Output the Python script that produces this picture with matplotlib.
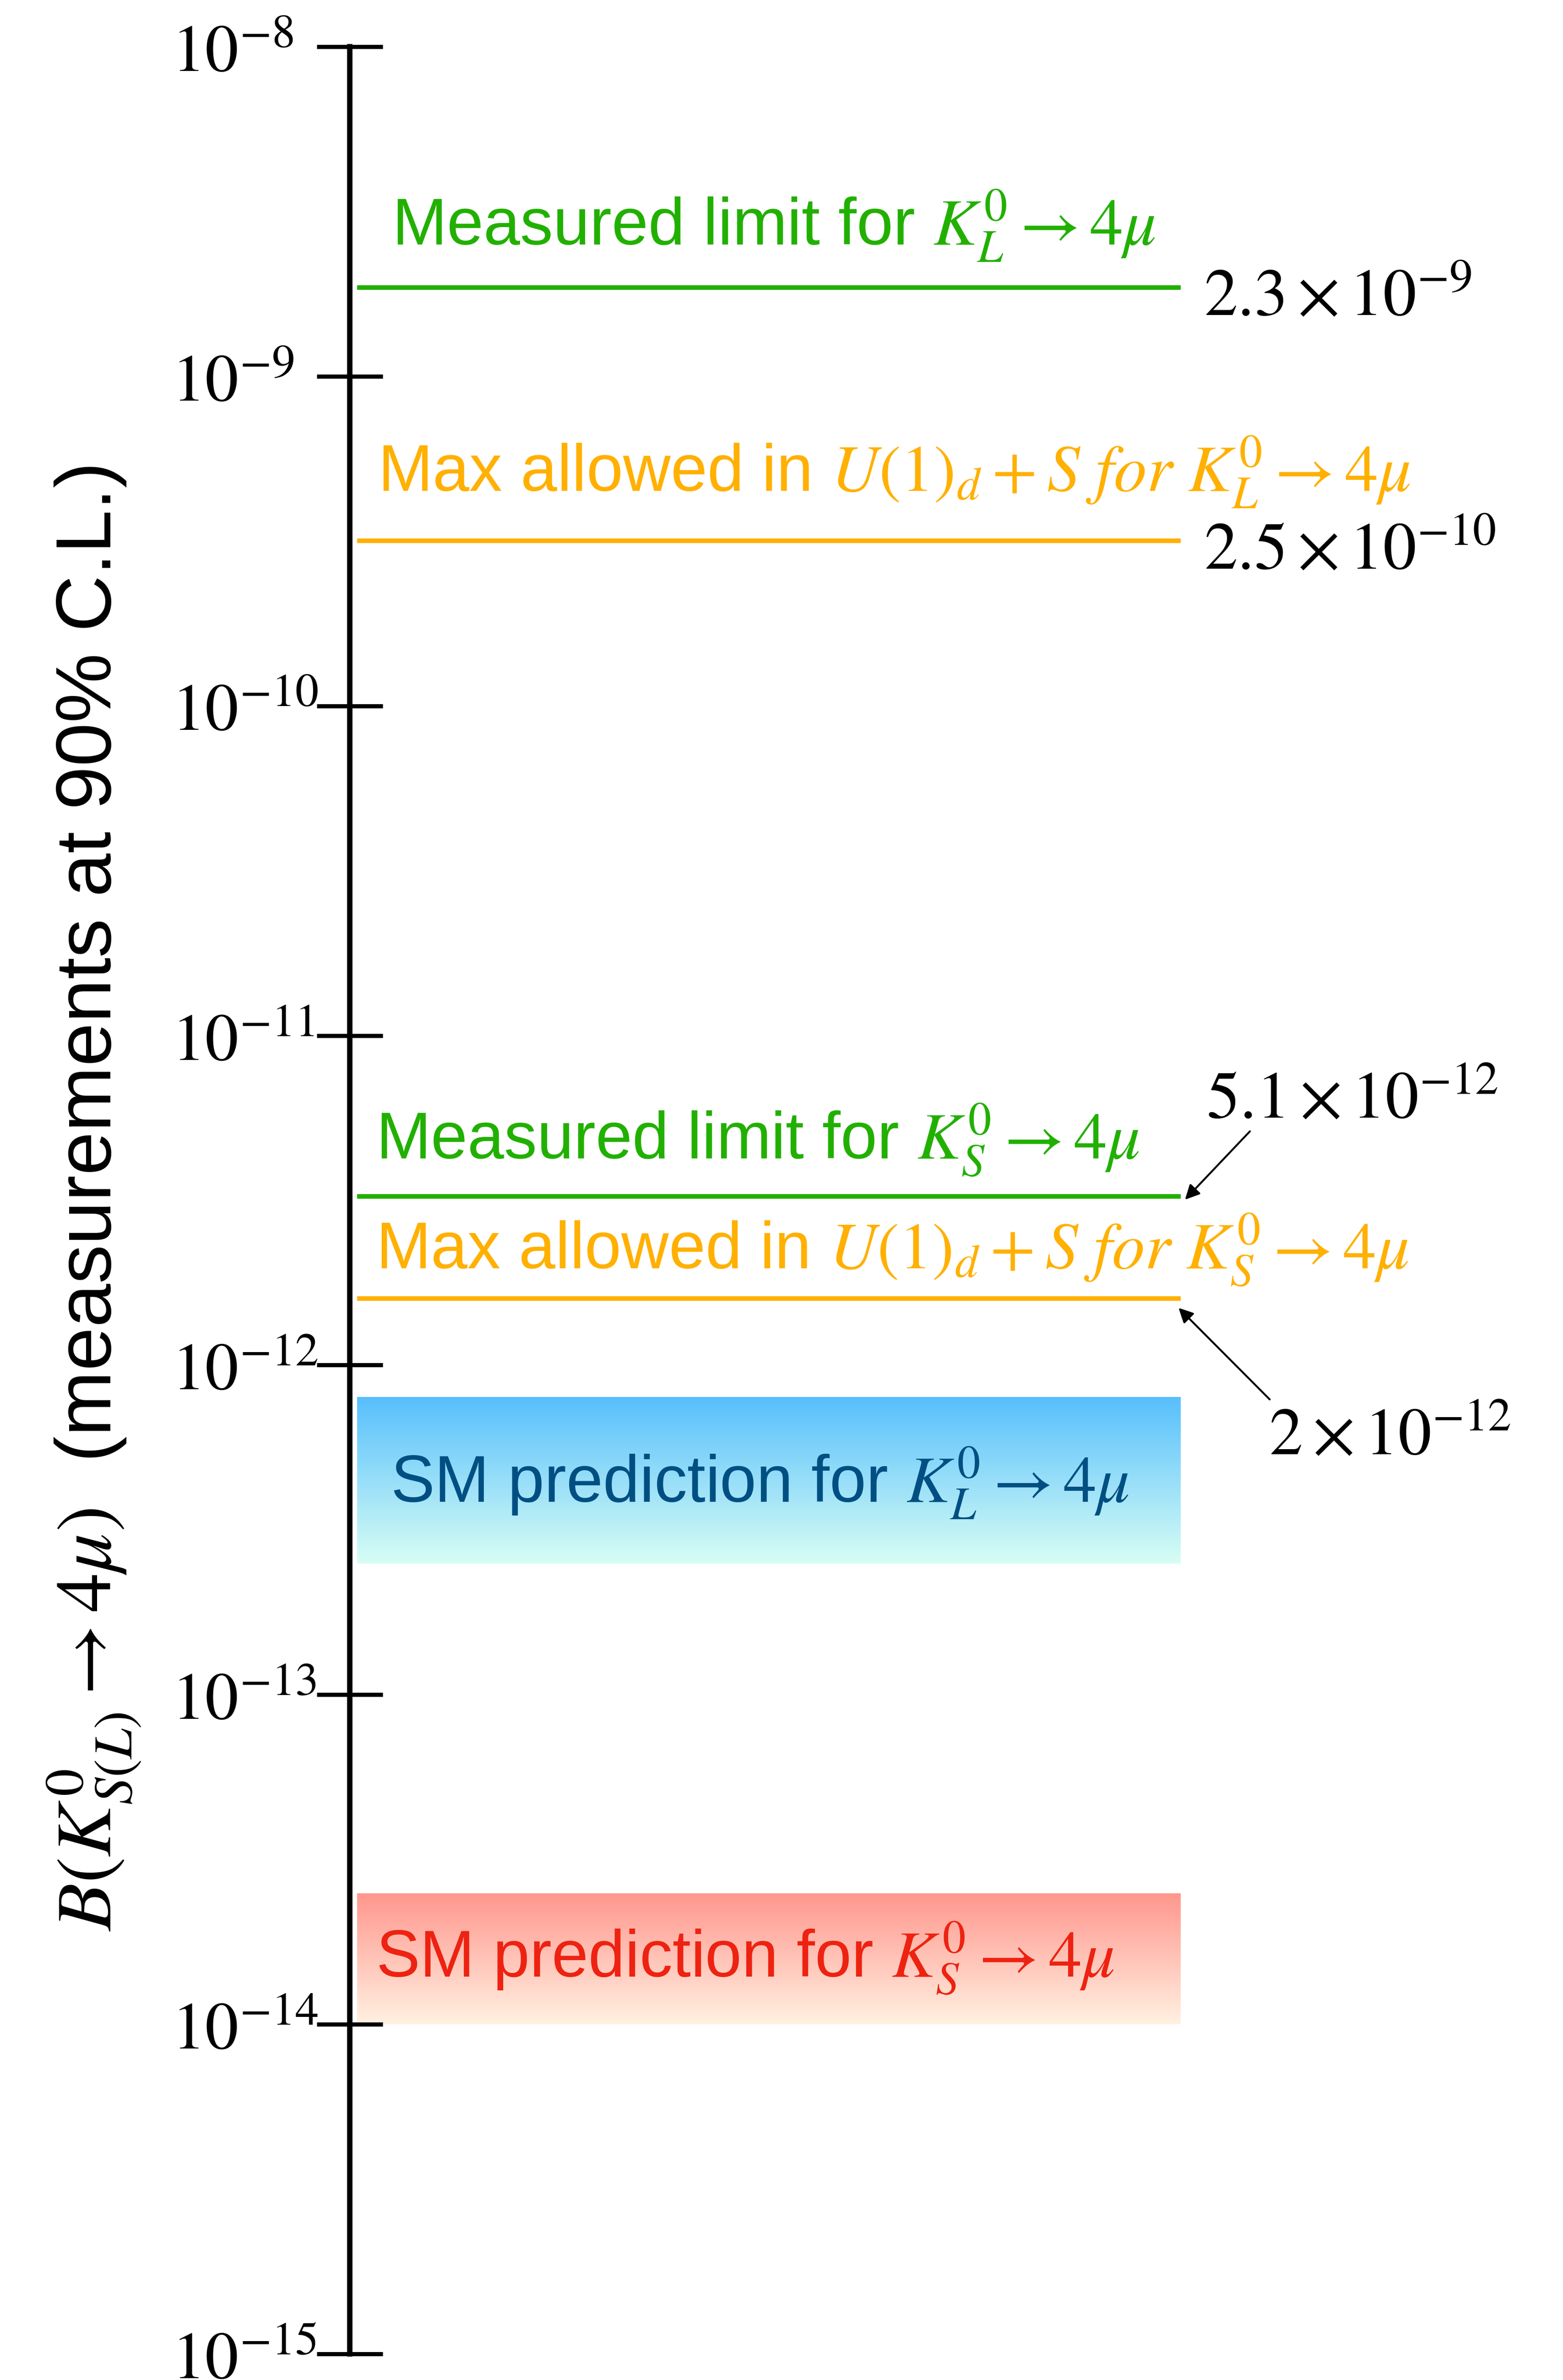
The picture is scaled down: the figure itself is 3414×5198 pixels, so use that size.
import numpy as np
import matplotlib
matplotlib.use("Agg")
import matplotlib.pyplot as plt
import matplotlib.transforms as mtransforms
from matplotlib.colors import LinearSegmentedColormap
from matplotlib.ticker import NullLocator

plt.rcParams['font.family'] = ['Liberation Sans', 'DejaVu Sans']
plt.rcParams['mathtext.fontset'] = 'stix'

# decades on the y axis
tick_exponents = [-8, -9, -10, -11, -12, -13, -14, -15]

# limit lines: where they sit on the chart, and the number quoted next to them
line_names = [r"Measured limit for $K_L^0 \to 4\mu$",
              r"Max allowed in $U(1)_d + S\ for\ K_L^0 \to 4\mu$",
              r"Measured limit for $K_S^0 \to 4\mu$",
              r"Max allowed in $U(1)_d + S\ for\ K_S^0 \to 4\mu$"]
line_values = [1.86e-9, 3.17e-10, 3.25e-12, 1.59e-12]
line_quoted = [r"$2.3\times10^{-9}$", r"$2.5\times10^{-10}$",
               r"$5.1\times10^{-12}$", r"$2\times10^{-12}$"]
line_colors = ['#22b000', '#ffb000', '#22b000', '#ffb000']

# SM prediction bands
band_names = [r"SM prediction for $K_L^0 \to 4\mu$",
              r"SM prediction for $K_S^0 \to 4\mu$"]
band_low = [2.5e-13, 1.0e-14]
band_high = [8.0e-13, 2.5e-14]
band_text_colors = ['#004f82', '#ee2211']
band_top_colors = ['#58bffc', '#ff978e']
band_bottom_colors = ['#d6fdf4', '#fff0e0']

ylabel = r"$B(K^0_{S(L)} \to 4\mu)$  (measurements at 90% C.L.)"


def main():
    W, H, dpi = 3414, 5199, 300
    fig = plt.figure(figsize=(W / dpi, H / dpi), dpi=dpi)
    ax = fig.add_axes([764 / W, 1 - 5142 / H, (W - 764) / W, (5142 - 103) / H])
    ax.patch.set_alpha(0)

    ax.set_yscale('log')
    ax.set_ylim(1e-15, 1e-8)
    ax.set_xlim(0, 1)
    ax.set_yticks([10.0 ** e for e in tick_exponents],
                  [rf"$10^{{{e}}}$" for e in tick_exponents])
    ax.yaxis.set_minor_locator(NullLocator())
    # labels are left aligned in the original, so the pad reaches their left edge
    ax.tick_params(axis='y', direction='inout', length=34.6, width=2.2,
                   pad=76, labelsize=35)
    for lab in ax.get_yticklabels():
        lab.set_horizontalalignment('left')
    ax.set_xticks([])
    for s in ['top', 'right', 'bottom']:
        ax.spines[s].set_visible(False)
    ax.spines['left'].set_linewidth(2.8)

    x0, x1 = 0.006, 0.685  # horizontal extent of lines / bands
    base = ax.get_yaxis_transform()

    def shifted(dx, dy):
        return base + mtransforms.ScaledTranslation(dx / 72, dy / 72, fig.dpi_scale_trans)

    # lines with text above and number at the right
    text_x = [0.0347, 0.0230, 0.0215, 0.0215]
    text_dy = [22.8, 26.4, 19.9, 15.8]
    num_x = [0.7042, 0.7042, 0.706, 0.7577]
    num_dy = [-14.4, -14.6, 41.5, -81.4]
    ax.hlines(line_values, x0, x1, colors=line_colors, lw=2.4, zorder=2)
    for i, v in enumerate(line_values):
        ax.annotate(line_names[i], xy=(text_x[i], v), xycoords=base,
                    xytext=(0, text_dy[i]), textcoords='offset points',
                    color=line_colors[i], fontsize=34.5, ha='left', va='baseline')
        ax.annotate(line_quoted[i], xy=(num_x[i], v), xycoords=base,
                    xytext=(0, num_dy[i]), textcoords='offset points',
                    color='black', fontsize=35, ha='left', va='baseline')

    # arrows from the K_S numbers to the line ends
    arrows = {2: ((2.2, -1.7), (36.2, 34.1)), 3: ((-1.2, -4.8), (46.6, -52.8))}
    for i, (tip, tail) in arrows.items():
        v = line_values[i]
        ax.annotate('', xy=(x1, v), xycoords=shifted(*tip),
                    xytext=(x1, v), textcoords=shifted(*tail),
                    arrowprops=dict(arrowstyle='-|>', color='black', lw=1.0,
                                    mutation_scale=16, shrinkA=0, shrinkB=0))

    # gradient bands
    band_x = [0.0336, 0.0215]
    band_dy = [-11.0, -9.5]
    for i in range(len(band_names)):
        ys = np.geomspace(band_low[i], band_high[i], 60)
        shade = np.linspace(0, 1, 59).reshape(-1, 1)
        cmap = LinearSegmentedColormap.from_list('band', [band_bottom_colors[i], band_top_colors[i]])
        ax.pcolormesh([x0, x1], ys, shade, cmap=cmap, shading='flat',
                      edgecolors='none', antialiased=False, zorder=1)
        centre = np.sqrt(band_low[i] * band_high[i])
        ax.annotate(band_names[i], xy=(band_x[i], centre), xycoords=base,
                    xytext=(0, band_dy[i]), textcoords='offset points',
                    color=band_text_colors[i], fontsize=34.5, ha='left', va='baseline')

    fig.text(242 / W, 1 - 2617.5 / H, ylabel, rotation=90, rotation_mode='anchor',
             ha='center', va='baseline', fontsize=41)

    fig.savefig("out.png", dpi=dpi)


if __name__ == "__main__":
    main()
